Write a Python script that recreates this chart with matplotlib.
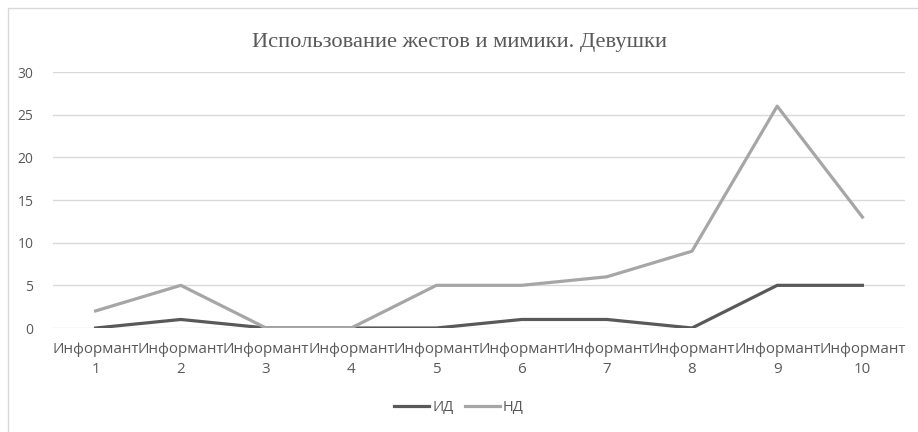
import matplotlib.pyplot as plt
from matplotlib.patches import Rectangle

# data
categories = ['Информант\n' + str(i) for i in range(1, 11)]
id_vals = [0, 1, 0, 0, 0, 1, 1, 0, 5, 5]
nd_vals = [2, 5, 0, 0, 5, 5, 6, 9, 26, 13]
yticks = [0, 5, 10, 15, 20, 25, 30]

fig = plt.figure(figsize=(9.18, 4.32), dpi=100)
# outer chart frame
fig.patches.append(Rectangle((8 / 918, -0.01), 1.0, 1 - 8 / 432 + 0.01,
                             transform=fig.transFigure, fill=False,
                             edgecolor='#d9d9d9', linewidth=1.0))

ax = fig.add_axes([53 / 918, 1 - 328 / 432, (905 - 53) / 918, (328 - 72) / 432])
x = list(range(len(categories)))
ax.plot(x, id_vals, color='#595959', linewidth=2.3, label='ИД', solid_joinstyle='round')
ax.plot(x, nd_vals, color='#a6a6a6', linewidth=2.3, label='НД', solid_joinstyle='round')

ax.set_xlim(-0.5, len(categories) - 0.5)
ax.set_ylim(0, 30)
ax.set_yticks(yticks)
ax.set_xticks(x)
ax.set_xticklabels(categories, fontsize=10.9, color='#595959', family='Open Sans',
                   linespacing=1.45)
ax.tick_params(axis='y', labelsize=10, labelcolor='#595959', length=0, pad=14)
ax.tick_params(axis='x', length=0, pad=10)
for lab in ax.get_yticklabels():
    lab.set_family('Open Sans')
ax.grid(axis='y', color='#d9d9d9', linewidth=1.0)
ax.set_axisbelow(True)
for s in ax.spines.values():
    s.set_visible(False)

fig.text(0.5, 1 - 43 / 432, 'Использование жестов и мимики. Девушки',
         ha='center', va='center', fontsize=16.2, color='#595959',
         family='Liberation Serif')

leg = fig.legend(loc='center', bbox_to_anchor=(0.5, 1 - 408 / 432), ncol=2,
                 frameon=False, handlelength=2.4, columnspacing=0.8,
                 handletextpad=0.2, prop={'family': 'Open Sans', 'size': 10.5})
for t in leg.get_texts():
    t.set_color('#595959')

fig.savefig('out.png', dpi=100)
